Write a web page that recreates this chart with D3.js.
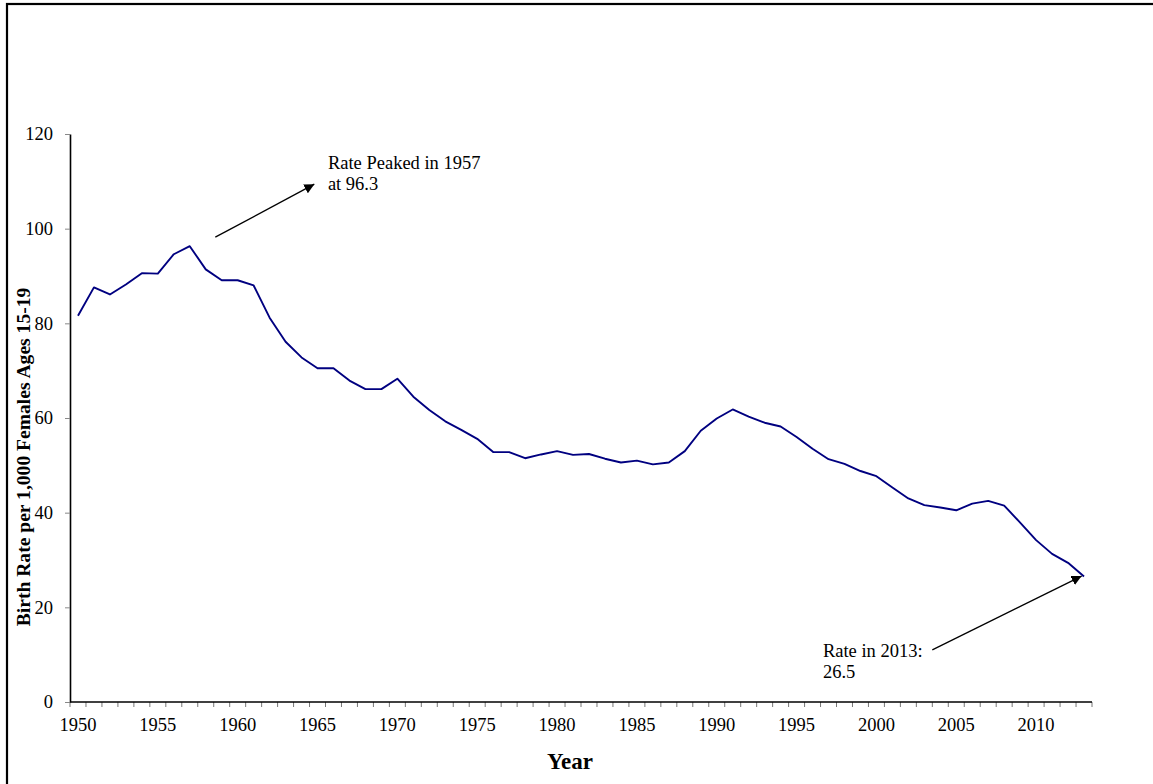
<!DOCTYPE html>
<html>
<head>
<meta charset="utf-8">
<script src="https://cdn.jsdelivr.net/npm/d3@7"></script>
<style>
  html, body { margin: 0; padding: 0; background: #fff; }
  svg { display: block; }
</style>
</head>
<body>
<svg id="chart" width="1153" height="784"></svg>
<script>
const years = d3.range(1950, 2014);
const rates = [81.6, 87.6, 86.1, 88.2, 90.6, 90.5, 94.6, 96.3, 91.4, 89.1,
               89.1, 88.0, 81.2, 76.1, 72.8, 70.5, 70.5, 67.9, 66.1, 66.1,
               68.3, 64.5, 61.7, 59.3, 57.5, 55.6, 52.8, 52.8, 51.5, 52.3,
               53.0, 52.2, 52.4, 51.4, 50.6, 51.0, 50.2, 50.6, 53.0, 57.3,
               59.9, 61.8, 60.3, 59.0, 58.2, 56.0, 53.5, 51.3, 50.3, 48.8,
               47.7, 45.3, 43.0, 41.6, 41.1, 40.5, 41.9, 42.5, 41.5, 37.9,
               34.2, 31.3, 29.4, 26.5];
const yTicks = [0, 20, 40, 60, 80, 100, 120];
const xLabelYears = [1950, 1955, 1960, 1965, 1970, 1975, 1980, 1985, 1990, 1995, 2000, 2005, 2010];
const yTitle = "Birth Rate per 1,000 Females Ages 15-19";
const xTitle = "Year";
const annotations = [
  { lines: ["Rate Peaked in 1957", "at 96.3"], textYear: 1965.65, textVal: 112.6, fromYear: 1958.6, fromVal: 98.2, toYear: 1964.8, toVal: 109.4 },
  { lines: ["Rate in 2013:", "26.5"], textYear: 1996.65, textVal: 9.5, fromYear: 2003.5, fromVal: 11.0, toYear: 2012.85, toVal: 26.6 }
];

const FONT = '"Liberation Serif", "Times New Roman", "DejaVu Serif", serif';
const svg = d3.select("#chart");

// outer frame
svg.append("rect").attr("x", 7).attr("y", 4).attr("width", 1160).attr("height", 800)
  .attr("fill", "none").attr("stroke", "#000").attr("stroke-width", 2.2);

const pLeft = 70, pRight = 1092, pTop = 134, pBottom = 702;
const x = d3.scaleBand().domain(years).range([pLeft, pRight]).padding(0);
const xc = d => x(d) + x.bandwidth() / 2;
const xl = d3.scaleLinear().domain([1950, 2013]).range([xc(1950), xc(2013)]);
const y = d3.scaleLinear().domain([0, 120]).range([pBottom, pTop]);

// y axis
const yAxis = svg.append("g").attr("transform", `translate(${pLeft},0)`)
  .call(d3.axisLeft(y).tickValues(yTicks).tickSize(5).tickSizeOuter(0).tickPadding(12));
yAxis.attr("font-family", FONT).attr("font-size", 18.5);
yAxis.select(".domain").attr("stroke", "#000").attr("stroke-width", 1.6);
yAxis.selectAll(".tick line").attr("stroke", "#888");
yAxis.selectAll(".tick text").attr("fill", "#000");

// x axis: tick marks at category boundaries
const edges = d3.range(1950, 2015);
const xe = d3.scaleLinear().domain([1950, 2014]).range([pLeft, pRight]);
const xAxisG = svg.append("g").attr("transform", `translate(0,${pBottom})`);
xAxisG.selectAll("line.tk").data(edges).join("line").attr("class", "tk")
  .attr("x1", d => xe(d)).attr("x2", d => xe(d)).attr("y1", 0).attr("y2", 5)
  .attr("stroke", "#777").attr("stroke-width", 1);
xAxisG.append("line").attr("x1", pLeft).attr("x2", pRight).attr("y1", 0).attr("y2", 0)
  .attr("stroke", "#000").attr("stroke-width", 1.6);
xAxisG.selectAll("text.lbl").data(xLabelYears).join("text").attr("class", "lbl")
  .attr("x", d => xc(d)).attr("y", 29).attr("text-anchor", "middle")
  .attr("font-family", FONT).attr("font-size", 18.5).attr("fill", "#000").text(d => d);

// line
const line = d3.line().x((d, i) => xc(years[i])).y(d => y(d));
svg.append("path").datum(rates).attr("d", line)
  .attr("fill", "none").attr("stroke", "#000080").attr("stroke-width", 1.9)
  .attr("stroke-linejoin", "round");

// arrow marker
svg.append("defs").append("marker").attr("id", "arr")
  .attr("viewBox", "0 0 10 10").attr("refX", 10).attr("refY", 5)
  .attr("markerWidth", 10).attr("markerHeight", 10).attr("markerUnits", "userSpaceOnUse")
  .attr("orient", "auto")
  .append("path").attr("d", "M0,0 L10,5 L0,10 Z").attr("fill", "#000");

annotations.forEach(a => {
  svg.append("line")
    .attr("x1", xl(a.fromYear)).attr("y1", y(a.fromVal))
    .attr("x2", xl(a.toYear)).attr("y2", y(a.toVal))
    .attr("stroke", "#000").attr("stroke-width", 1.3).attr("marker-end", "url(#arr)");
  const t = svg.append("text").attr("x", xl(a.textYear)).attr("y", y(a.textVal))
    .attr("font-family", FONT).attr("font-size", 18.5).attr("fill", "#000");
  a.lines.forEach((ln, i) => {
    t.append("tspan").attr("x", xl(a.textYear)).attr("dy", i === 0 ? 0 : 20.5).text(ln);
  });
});

// axis titles
svg.append("text").attr("transform", `translate(30,457) rotate(-90)`)
  .attr("text-anchor", "middle").attr("font-family", FONT)
  .attr("font-size", 19.6).attr("font-weight", "bold").attr("fill", "#000")
  .text(yTitle);
svg.append("text").attr("x", 570).attr("y", 769).attr("text-anchor", "middle")
  .attr("font-family", FONT).attr("font-size", 23).attr("font-weight", "bold").attr("fill", "#000")
  .text(xTitle);
</script>
</body>
</html>
